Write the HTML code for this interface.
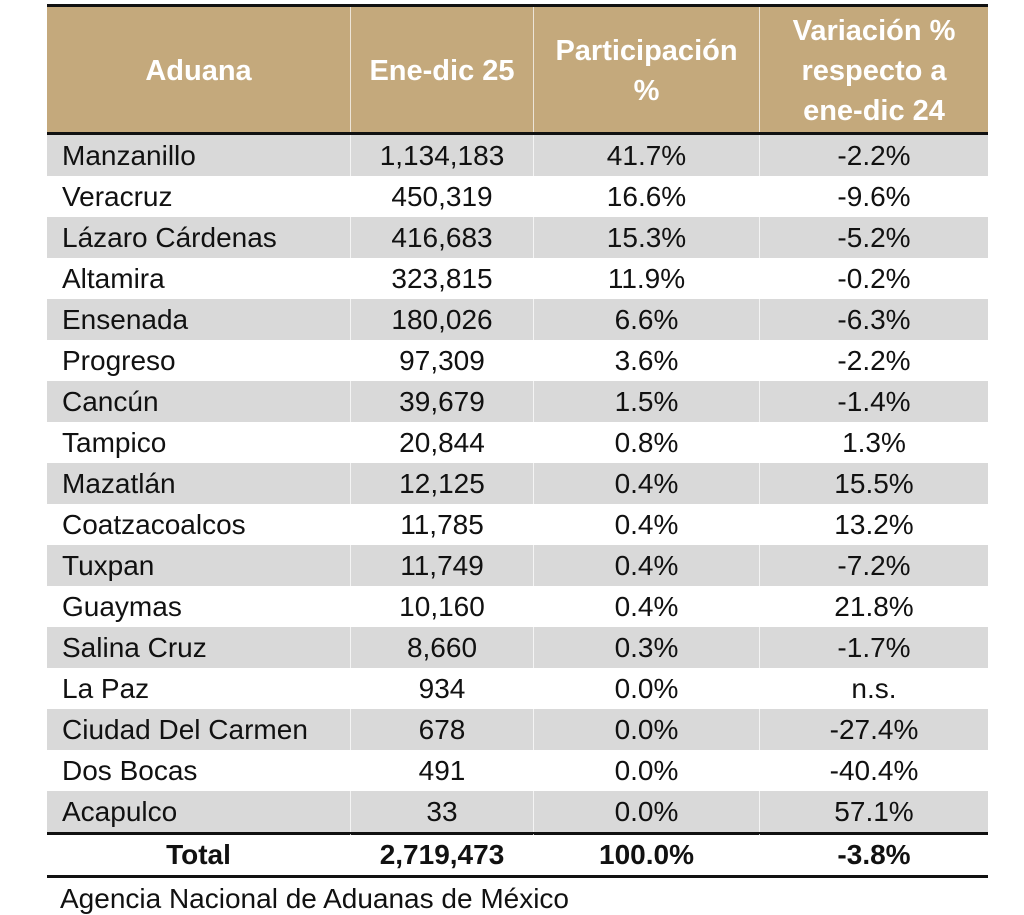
<!DOCTYPE html>
<html><head><meta charset="utf-8"><style>
body{margin:0;width:1024px;height:891px;overflow:hidden;background:#fff;font-family:"Liberation Sans",sans-serif;}
.t{position:absolute;left:47px;top:4px;width:941px;}
.hdr{position:absolute;left:0;top:3px;height:127px;width:941px;background:#c4a97c;}
.row{position:absolute;left:0;width:941px;height:41px;}
.c{position:absolute;top:0;height:100%;display:flex;align-items:center;justify-content:center;font-size:28px;color:#111;box-sizing:border-box;border-left:1px solid rgba(255,255,255,.7);}
.c1{left:0;width:303px;justify-content:flex-start;padding-left:15px;border-left:none}
.c2{left:303px;width:183px}
.c3{left:486px;width:226px}
.c4{left:712px;width:229px}
.h .c{color:#fff;font-weight:bold;font-size:29px;text-align:center;line-height:40px}
.h .c1{justify-content:center;padding-left:0}
.g{background:#d9d9d9}
.line{position:absolute;left:0;width:941px;background:#111}
.tot .c{font-weight:bold}
.tot .c1{justify-content:center;padding-left:0}
</style></head><body>
<div class="t">
<div class="line" style="top:0;height:3px"></div>
<div class="hdr"></div>
<div class="row h" style="top:3px;height:127px">
<div class="c c1">Aduana</div><div class="c c2">Ene-dic 25</div><div class="c c3">Participación<br>%</div><div class="c c4">Variación %<br>respecto a<br>ene-dic 24</div></div>
<div class="line" style="top:128px;height:3px"></div>
<div id="rows"></div>
</div>
<div style="position:absolute;left:60px;top:883px;font-size:28px;color:#111">Agencia Nacional de Aduanas de México</div>
<script>
var d=[["Manzanillo","1,134,183","41.7%","-2.2%"],["Veracruz","450,319","16.6%","-9.6%"],["Lázaro Cárdenas","416,683","15.3%","-5.2%"],["Altamira","323,815","11.9%","-0.2%"],["Ensenada","180,026","6.6%","-6.3%"],["Progreso","97,309","3.6%","-2.2%"],["Cancún","39,679","1.5%","-1.4%"],["Tampico","20,844","0.8%","1.3%"],["Mazatlán","12,125","0.4%","15.5%"],["Coatzacoalcos","11,785","0.4%","13.2%"],["Tuxpan","11,749","0.4%","-7.2%"],["Guaymas","10,160","0.4%","21.8%"],["Salina Cruz","8,660","0.3%","-1.7%"],["La Paz","934","0.0%","n.s."],["Ciudad Del Carmen","678","0.0%","-27.4%"],["Dos Bocas","491","0.0%","-40.4%"],["Acapulco","33","0.0%","57.1%"]];
var h="";
d.forEach(function(r,i){h+='<div class="row'+(i%2==0?' g':'')+'" style="top:'+(131+i*41)+'px"><div class="c c1">'+r[0]+'</div><div class="c c2">'+r[1]+'</div><div class="c c3">'+r[2]+'</div><div class="c c4">'+r[3]+'</div></div>';});
var y=131+17*41;
h+='<div class="line" style="top:'+y+'px;height:3px"></div>';
h+='<div class="row tot" style="top:'+(y+2)+'px"><div class="c c1">Total</div><div class="c c2">2,719,473</div><div class="c c3">100.0%</div><div class="c c4">-3.8%</div></div>';
h+='<div class="line" style="top:'+(y+43)+'px;height:3px"></div>';
document.getElementById("rows").innerHTML=h;
</script>
</body></html>
